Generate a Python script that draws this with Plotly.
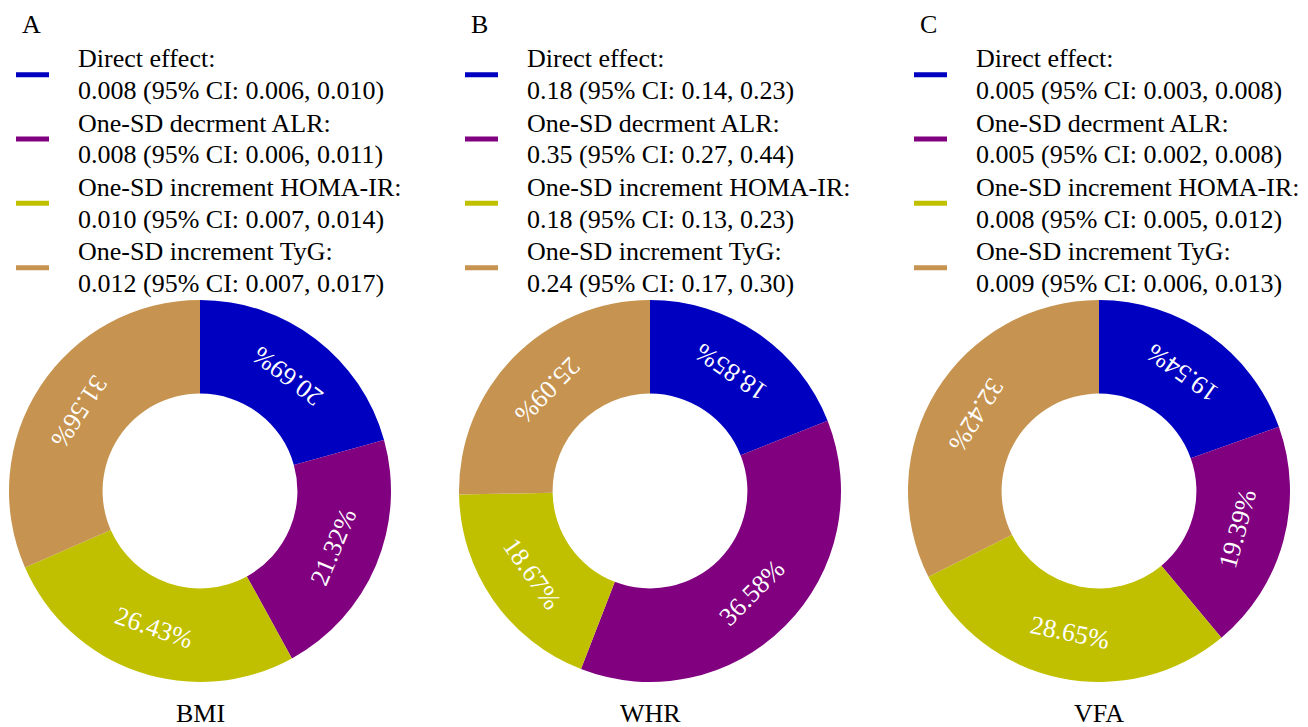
import math
import plotly.graph_objects as go

W, H = 1308, 727

panels = ["A", "B", "C"]
outcomes = ["BMI", "WHR", "VFA"]
components = ["Direct effect", "One-SD decrment ALR", "One-SD increment HOMA-IR", "One-SD increment TyG"]
colors = ["#0000C0", "#800080", "#C0C000", "#C69450"]

share_bmi = [20.69, 21.32, 26.43, 31.56]
share_whr = [18.85, 36.58, 18.67, 25.09]
share_vfa = [19.54, 19.39, 28.65, 32.42]
shares = [share_bmi, share_whr, share_vfa]

effects_bmi = ["0.008 (95% CI: 0.006, 0.010)", "0.008 (95% CI: 0.006, 0.011)",
               "0.010 (95% CI: 0.007, 0.014)", "0.012 (95% CI: 0.007, 0.017)"]
effects_whr = ["0.18 (95% CI: 0.14, 0.23)", "0.35 (95% CI: 0.27, 0.44)",
               "0.18 (95% CI: 0.13, 0.23)", "0.24 (95% CI: 0.17, 0.30)"]
effects_vfa = ["0.005 (95% CI: 0.003, 0.008)", "0.005 (95% CI: 0.002, 0.008)",
               "0.008 (95% CI: 0.005, 0.012)", "0.009 (95% CI: 0.006, 0.013)"]
effects = [effects_bmi, effects_whr, effects_vfa]

FONT = "'Liberation Serif', 'Times New Roman', 'DejaVu Serif', serif"


def px(x):
    return x / W


def py(y):
    return 1 - y / H


centers_x = [200, 650, 1099]
center_y = 491
radius = 191
hole = 0.51
panel_offsets = [0, 449, 898]

fig = go.Figure()
annotations = []
shapes = []

for i in range(3):
    cx = centers_x[i]
    vals = shares[i]
    fig.add_trace(go.Pie(
        labels=components,
        values=vals,
        sort=False,
        direction="clockwise",
        rotation=0,
        hole=hole,
        marker=dict(colors=colors, line=dict(width=0)),
        textinfo="none",
        domain=dict(x=[px(cx - radius), px(cx + radius)],
                    y=[py(center_y + radius), py(center_y - radius)]),
        showlegend=False,
        hoverinfo="label+value",
    ))

    # slice labels along the ring, tops facing the centre
    total = sum(vals)
    r_mid = radius * (1 + hole) / 2
    cum = 0.0
    for v in vals:
        theta = 360.0 * (cum + v / 2) / total
        cum += v
        t = math.radians(theta)
        lx = cx + r_mid * math.sin(t)
        ly = center_y - r_mid * math.cos(t)
        angle = (theta + 180) % 360
        if angle > 180:
            angle -= 360
        annotations.append(dict(x=px(lx), y=py(ly), xref="paper", yref="paper",
                                text=f"{v:.2f}%", showarrow=False,
                                xanchor="center", yanchor="middle",
                                textangle=angle,
                                font=dict(family=FONT, size=26, color="white")))

    off = panel_offsets[i]
    # panel letter
    annotations.append(dict(x=px(20 + off), y=py(24), xref="paper", yref="paper",
                            text=panels[i], showarrow=False, xanchor="left", yanchor="middle",
                            font=dict(family=FONT, size=26, color="black")))
    # outcome label below donut
    annotations.append(dict(x=px(cx), y=py(713), xref="paper", yref="paper",
                            text=outcomes[i], showarrow=False, xanchor="center", yanchor="middle",
                            font=dict(family=FONT, size=26, color="black")))
    # legend entries
    for k in range(4):
        y1 = 59 + 64.3 * k
        y2 = y1 + 31.5
        annotations.append(dict(x=px(76 + off), y=py(y1), xref="paper", yref="paper",
                                text=components[k] + ":", showarrow=False,
                                xanchor="left", yanchor="middle",
                                font=dict(family=FONT, size=26, color="black")))
        annotations.append(dict(x=px(76 + off), y=py(y2), xref="paper", yref="paper",
                                text=effects[i][k], showarrow=False,
                                xanchor="left", yanchor="middle",
                                font=dict(family=FONT, size=26, color="black")))
        ym = (y1 + y2) / 2
        shapes.append(dict(type="line", xref="paper", yref="paper",
                           x0=px(16 + off), x1=px(49 + off), y0=py(ym), y1=py(ym),
                           line=dict(color=colors[k], width=5)))

fig.update_layout(
    width=W, height=H,
    margin=dict(l=0, r=0, t=0, b=0),
    paper_bgcolor="white",
    plot_bgcolor="white",
    annotations=annotations,
    shapes=shapes,
    font=dict(family=FONT),
)

fig.write_html("out.html")
